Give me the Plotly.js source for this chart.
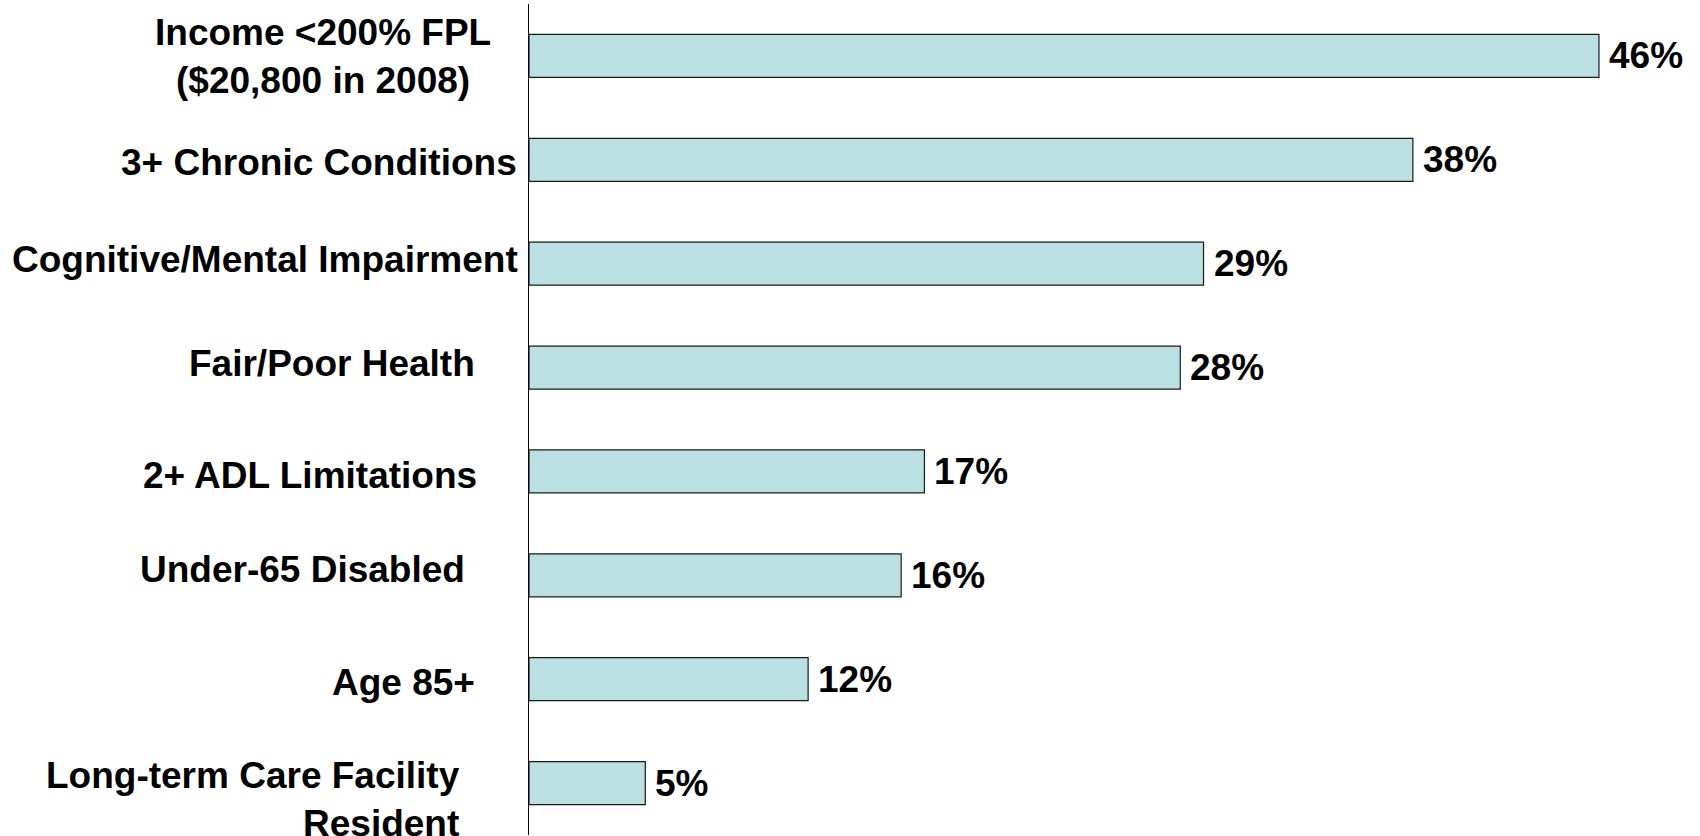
<!DOCTYPE html>
<html>
<head>
<meta charset="utf-8">
<script src="https://cdn.plot.ly/plotly-3.0.1.min.js"></script>
<style>
  html, body { margin: 0; padding: 0; background: #ffffff; }
  #chart { width: 1700px; height: 836px; }
</style>
</head>
<body>
<div id="chart"></div>
<script>
// ---- data ----
var categories = [
  "Income <200% FPL<br>($20,800 in 2008)",
  "3+ Chronic Conditions",
  "Cognitive/Mental Impairment",
  "Fair/Poor Health",
  "2+ ADL Limitations",
  "Under-65 Disabled",
  "Age 85+",
  "Long-term Care Facility<br>Resident"
];
var values = [46, 38, 29, 28, 17, 16, 12, 5];
var valueLabels = ["46%", "38%", "29%", "28%", "17%", "16%", "12%", "5%"];

// ---- style (label placement tweaks, px) ----
var labelShiftX = [-36, -10, -9, -52, -50, -62, -52, -67];
var labelShiftY = [-1, -3, 4, 4, -4, 6, -3, -16];
var labelAlign  = ["center", "right", "right", "right", "right", "right", "right", "right"];

var FONT = "Liberation Sans, Arial, Helvetica, sans-serif";
var yIdx = categories.map(function (c, i) { return i; });

var trace = {
  type: "bar",
  orientation: "h",
  x: values,
  y: yIdx,
  marker: { color: "#BBE0E3", line: { color: "#1a1a1a", width: 1.2 } },
  hoverinfo: "skip"
};

var annotations = [];
categories.forEach(function (c, i) {
  annotations.push({
    xref: "paper", yref: "y", x: 0, y: yIdx[i],
    xanchor: "right", yanchor: "middle",
    xshift: labelShiftX[i], yshift: labelShiftY[i],
    text: c, align: labelAlign[i], showarrow: false,
    font: { family: FONT, size: 37, color: "#000000", weight: 700 }
  });
  annotations.push({
    xref: "x", yref: "y", x: values[i], y: yIdx[i],
    xanchor: "left", yanchor: "middle", xshift: 8,
    text: valueLabels[i], showarrow: false,
    font: { family: FONT, size: 37, color: "#000000", weight: 700 }
  });
});

var layout = {
  width: 1700, height: 836,
  margin: { l: 529, r: 8, t: 4, b: 1 },
  paper_bgcolor: "#ffffff", plot_bgcolor: "#ffffff",
  showlegend: false,
  bargap: 0.586,
  xaxis: { range: [0, 50], visible: false, fixedrange: true },
  yaxis: {
    range: [categories.length - 0.5, -0.5],
    showticklabels: false, ticks: "", showgrid: false, zeroline: false,
    showline: true, linecolor: "#000000", linewidth: 1.5, fixedrange: true
  },
  annotations: annotations
};

Plotly.newPlot("chart", [trace], layout, { displayModeBar: false, staticPlot: true });
</script>
</body>
</html>
